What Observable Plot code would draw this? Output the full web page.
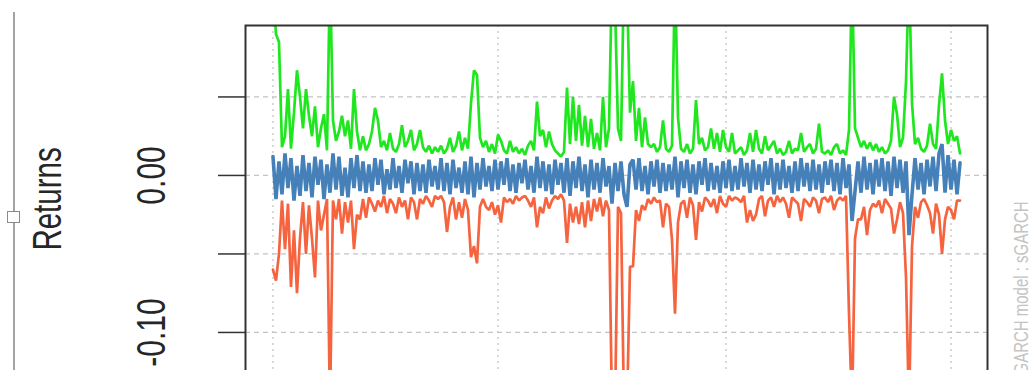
<!DOCTYPE html>
<html><head><meta charset="utf-8">
<script src="https://cdn.jsdelivr.net/npm/d3@7"></script>
<script src="https://cdn.jsdelivr.net/npm/@observablehq/plot@0.6"></script>
<style>
body{margin:0;background:#fff;}
#wrap{position:relative;width:1030px;height:370px;overflow:hidden;background:#fff;}
#chart{position:absolute;left:0;top:0;}
#handleLine{position:absolute;left:13px;top:12px;width:2px;height:380px;background:#a3a3a3;}
#handleBox{position:absolute;left:7px;top:211px;width:11px;height:10px;border:1px solid #8a8a8a;background:#fff;}
</style></head><body>
<div id="wrap"><div id="chart"></div><div id="handleLine"></div><div id="handleBox"></div></div>
<script>
// values in units of 0.001 (returns scale)
const returnsSeries = [
12,-15,9,-12,14,-8,11,-16,6,-13,13,-10,8,-14,12,-6,10,-15,7,-11,14,-9,12,-13,5,-14,11,-8,13,-10,
9,-11,7,-10,11,-6,10,-12,4,-9,11,-8,6,-11,10,-5,9,-12,8,-10,7,-11,10,-7,6,-9,11,-10,8,-12,
10,-8,5,-11,9,-12,12,-14,8,-9,11,-7,6,-10,10,-9,9,-6,11,-10,7,-11,8,-5,10,-9,6,-11,12,-8,
9,-10,7,-12,10,-6,8,-11,11,-13,9,-8,12,-10,7,-14,10,-9,8,-11,11,-7,6,-18,8,-10,9,-12,-20,7,
10,-9,11,-10,6,-12,9,-7,10,-11,8,-10,7,-9,12,-14,9,-8,10,-11,7,-12,9,-6,11,-10,8,-9,6,-11,
9,-8,10,-10,6,-9,11,-7,8,-11,10,-9,7,-10,9,-6,11,-12,8,-9,10,-8,6,-11,9,-10,11,-7,8,-10,
10,-9,7,-11,9,-6,10,-10,8,-12,11,-8,7,-29,-10,9,-11,12,-9,8,-12,10,-7,11,-10,9,-13,12,-8,10,
-11,9,-38,-12,11,-9,8,-12,10,-7,12,-10,14,20,-11,13,-9,10,-12,8
];
const upperBand = [
120,90,85,18,25,55,17,40,67,50,30,55,38,25,44,18,30,39,16,130,35,22,28,38,25,35,17,55,28,16,
25,16,20,28,43,35,18,22,16,27,17,15,20,32,18,22,29,16,20,29,18,15,19,14,18,15,19,14,17,24,
15,19,28,16,24,17,46,67,64,24,18,22,15,20,14,26,22,16,14,22,15,18,14,17,13,19,22,16,47,25,
29,18,28,20,16,14,12,15,56,20,50,22,45,19,38,18,36,17,27,16,50,18,30,130,110,30,22,130,120,40,
60,22,43,18,37,20,18,20,15,18,35,17,15,19,130,37,17,15,20,14,17,48,20,24,16,18,30,17,27,15,
29,18,15,27,14,16,18,13,16,27,15,29,17,14,25,16,19,22,14,17,13,15,22,14,17,16,27,15,18,20,
14,17,33,15,14,16,13,18,20,14,16,13,29,130,30,24,18,22,17,21,16,20,15,18,14,16,22,50,39,18,
24,60,130,46,20,24,17,15,19,33,20,17,45,65,35,20,29,22,25,14
];
const lowerBand = [
-60,-67,-50,-16,-47,-18,-71,-35,-75,-40,-17,-50,-19,-40,-65,-16,-35,-25,-15,-150,-16,-28,-15,-37,-17,-30,-16,-47,-25,-28,
-15,-27,-14,-18,-23,-16,-20,-13,-24,-15,-18,-24,-14,-20,-16,-28,-14,-17,-28,-15,-18,-13,-16,-20,-13,-15,-13,-17,-36,-20,
-14,-28,-17,-27,-15,-22,-52,-45,-56,-20,-15,-20,-22,-17,-25,-19,-30,-14,-17,-15,-18,-13,-16,-14,-13,-16,-20,-14,-33,-20,
-24,-14,-21,-16,-13,-15,-12,-16,-43,-18,-30,-20,-31,-17,-33,-16,-29,-15,-23,-14,-26,-16,-22,-150,-150,-20,-24,-150,-150,-58,
-58,-22,-29,-19,-22,-15,-18,-14,-17,-16,-33,-18,-20,-41,-88,-30,-18,-16,-27,-14,-19,-41,-17,-23,-14,-16,-20,-15,-24,-13,
-18,-20,-13,-16,-14,-15,-17,-13,-30,-22,-29,-25,-15,-13,-26,-16,-14,-20,-13,-17,-14,-18,-27,-14,-16,-18,-29,-15,-17,-20,
-14,-16,-24,-15,-14,-17,-13,-22,-16,-14,-16,-13,-88,-150,-40,-28,-28,-20,-38,-22,-18,-20,-16,-24,-15,-18,-21,-37,-28,-17,
-24,-65,-150,-45,-20,-27,-17,-15,-19,-24,-37,-18,-25,-50,-28,-20,-22,-28,-16,-16
];
const xGrid = [0, 75, 151, 226];            // sample index of vertical grid lines
const yGrid = [-0.10, -0.05, 0, 0.05];
const yTicks = [-0.10, -0.05, 0, 0.05];
const yLabelValues = [0, -0.10];
const yLabelText = ["0.00", "-0.10"];
const yTitle = "Returns";
const modelNote = "GARCH model : sGARCH";

const data = returnsSeries.map((r, i) => ({t: i, ret: r / 1000, upper: upperBand[i] / 1000, lower: lowerBand[i] / 1000}));
const n = data.length;
const pad = 0.04 * (n - 1);

const plot = Plot.plot({
  width: 1030, height: 374,
  marginLeft: 245, marginRight: 43, marginTop: 25, marginBottom: 2,
  style: {background: "transparent", fontFamily: "'Liberation Sans', Arial, sans-serif", color: "#262626"},
  x: {domain: [-pad, n - 1 + pad], axis: null},
  y: {domain: [-0.1255, 0.0955]},
  marks: [
    Plot.ruleY(yGrid, {stroke: "#c4c4c4", strokeWidth: 1.3, strokeDasharray: "5,4"}),
    Plot.ruleX(xGrid, {stroke: "#c4c4c4", strokeWidth: 1.3, strokeDasharray: "2,4"}),
    Plot.line(data, {x: "t", y: "upper", stroke: "#1fe61f", strokeWidth: 2.7, strokeLinejoin: "miter", clip: true}),
    Plot.line(data, {x: "t", y: "lower", stroke: "#f5633f", strokeWidth: 2.7, strokeLinejoin: "miter", clip: true}),
    Plot.line(data, {x: "t", y: "ret", stroke: "#4680b8", strokeWidth: 3.6, strokeLinejoin: "miter", clip: true}),
    Plot.frame({stroke: "#333", strokeWidth: 2}),
    Plot.axisY({ticks: yTicks, tickSize: 27, tickFormat: () => "", stroke: "#333", strokeWidth: 1.5, label: null}),
    Plot.text(yLabelValues, {y: d => d, text: (d, i) => yLabelText[i], frameAnchor: "left", textAnchor: "middle", dx: -93, rotate: -90, fontSize: 30, fill: "#262626"}),
    Plot.text([yTitle], {frameAnchor: "left", textAnchor: "middle", dx: -197, rotate: -90, fontSize: 29.5, fill: "#262626"}),
    Plot.text([modelNote], {frameAnchor: "bottom-right", dx: 40, dy: 2, rotate: -90, textAnchor: "start", fontSize: 15, fill: "#c4c4c4"})
  ]
});
d3.select(plot).selectAll("text").each(function() {
  const tr = this.getAttribute("transform");
  if (tr && tr.includes("rotate")) this.setAttribute("transform", tr + " scale(1,1.35)");
});
document.getElementById("chart").appendChild(plot);
</script></body></html>
